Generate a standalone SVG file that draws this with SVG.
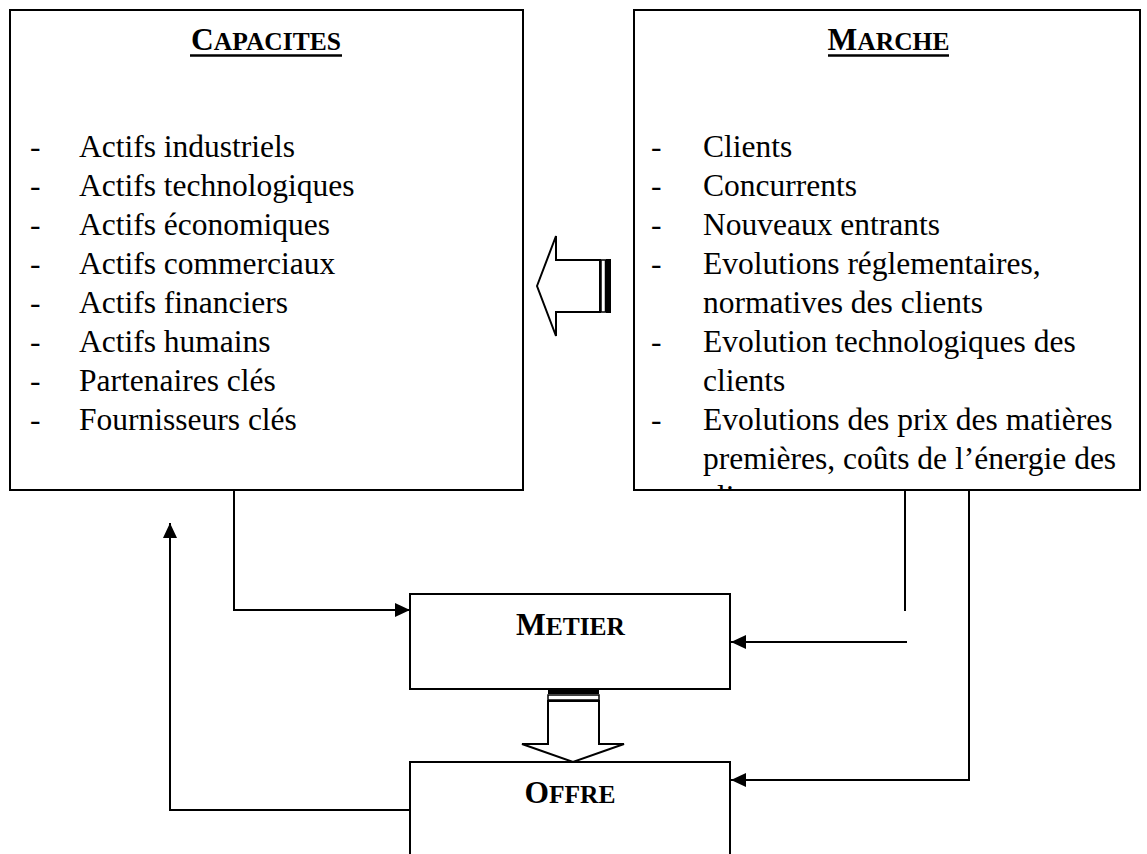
<svg xmlns="http://www.w3.org/2000/svg" width="1147" height="854" viewBox="0 0 1147 854">
<style>
.box{fill:#fff;stroke:#000;stroke-width:2}
.t{font-family:"Liberation Serif","Times New Roman",serif;font-size:31.5px;fill:#000}
.h{font-family:"Liberation Serif","Times New Roman",serif;font-weight:bold;fill:#000}
.big{font-size:31.5px}
.sm{font-size:25.5px}
.ul{stroke:#000;stroke-width:2.5}
.con{fill:none;stroke:#000;stroke-width:2}
.blk{fill:#fff;stroke:#000;stroke-width:2;stroke-linejoin:miter}
</style>
<defs>
<marker id="ah" markerUnits="userSpaceOnUse" markerWidth="16" markerHeight="14" refX="15" refY="7" orient="auto">
<path d="M0,0 L15,7 L0,14 Z" fill="#000"/>
</marker>
<clipPath id="clipM"><rect x="635" y="11" width="504" height="478"/></clipPath>
</defs>
<rect width="1147" height="854" fill="#fff"/>

<g id="capacites">
<rect class="box" x="10" y="10" width="513" height="480"/>
<text class="h" x="266" y="50" text-anchor="middle"><tspan class="big">C</tspan><tspan class="sm">APACITES</tspan></text>
<line class="ul" x1="190" y1="55.5" x2="342" y2="55.5"/>
<g class="t">
<text x="30" y="157">-</text><text x="79" y="157">Actifs industriels</text>
<text x="30" y="196">-</text><text x="79" y="196">Actifs technologiques</text>
<text x="30" y="235">-</text><text x="79" y="235">Actifs économiques</text>
<text x="30" y="274">-</text><text x="79" y="274">Actifs commerciaux</text>
<text x="30" y="313">-</text><text x="79" y="313">Actifs financiers</text>
<text x="30" y="352">-</text><text x="79" y="352">Actifs humains</text>
<text x="30" y="391">-</text><text x="79" y="391">Partenaires clés</text>
<text x="30" y="430">-</text><text x="79" y="430">Fournisseurs clés</text>
</g>
</g>

<g id="marche">
<rect class="box" x="634" y="10" width="506" height="480"/>
<text class="h" x="888.5" y="50" text-anchor="middle"><tspan class="big">M</tspan><tspan class="sm">ARCHE</tspan></text>
<line class="ul" x1="828" y1="55.5" x2="949" y2="55.5"/>
<g class="t" clip-path="url(#clipM)">
<text x="651" y="157">-</text><text x="703" y="157">Clients</text>
<text x="651" y="196">-</text><text x="703" y="196">Concurrents</text>
<text x="651" y="235">-</text><text x="703" y="235">Nouveaux entrants</text>
<text x="651" y="274">-</text><text x="703" y="274">Evolutions réglementaires,</text>
<text x="703" y="313">normatives des clients</text>
<text x="651" y="352">-</text><text x="703" y="352">Evolution technologiques des</text>
<text x="703" y="391">clients</text>
<text x="651" y="430">-</text><text x="703" y="430">Evolutions des prix des matières</text>
<text x="703" y="469">premières, coûts de l’énergie des</text>
<text x="703" y="507">clients</text>
</g>
</g>

<g id="metier">
<rect class="box" x="410" y="594" width="320" height="95"/>
<text class="h" x="570.5" y="635" text-anchor="middle"><tspan class="big">M</tspan><tspan class="sm">ETIER</tspan></text>
</g>

<g id="offre">
<rect class="box" x="410" y="762" width="320" height="110"/>
<text class="h" x="570" y="803" text-anchor="middle"><tspan class="big">O</tspan><tspan class="sm">FFRE</tspan></text>
</g>

<g id="arrow-left">
<polygon class="blk" points="537,286 556,236 556,260 600,260 600,312 556,312 556,336"/>
<rect x="601" y="260" width="4.5" height="52" fill="#fff" stroke="#000" stroke-width="1.5"/>
<rect x="606" y="259" width="5" height="54" fill="#000"/>
</g>

<g id="arrow-down">
<rect x="548" y="690" width="51" height="4" fill="#000"/>
<rect x="548" y="695" width="51" height="5" fill="#fff" stroke="#000" stroke-width="1.5"/>
<polygon class="blk" points="548,701 599,701 599,744 624,744 573,762 522,744 548,744"/>
</g>

<g id="connectors">
<path class="con" d="M234,490 V610 H410" marker-end="url(#ah)"/>
<path class="con" d="M905,490 V611"/>
<path class="con" d="M907,642 H731" marker-end="url(#ah)"/>
<path class="con" d="M969,490 V780 H731" marker-end="url(#ah)"/>
<path class="con" d="M410,810 H170 V523" marker-end="url(#ah)"/>
</g>
</svg>
